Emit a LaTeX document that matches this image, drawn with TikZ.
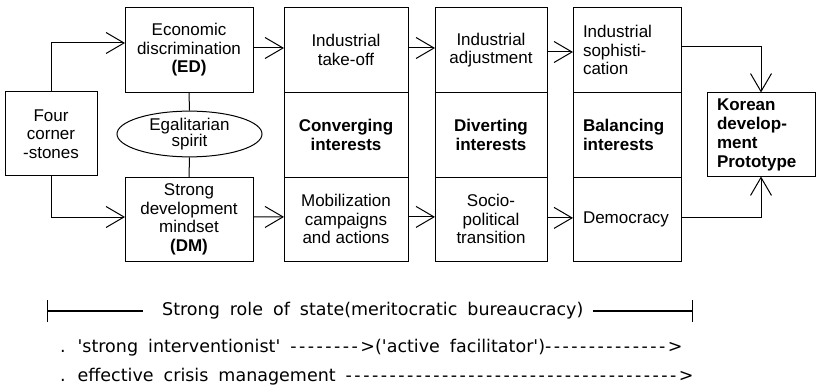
\documentclass[tikz,border=0pt]{standalone}
\usepackage{fontspec}
\setmainfont{Liberation Sans}
\newfontfamily\notefont[Ligatures=TeXOff,WordSpace=1.8]{DejaVu Sans}
\newfontfamily\dashfont[Ligatures=TeXOff,LetterSpace=14]{DejaVu Sans}
\usetikzlibrary{arrows.meta,positioning,shapes.geometric}

\newcommand{\dashrun}[1]{{\dashfont #1}}

\tikzset{
  cell/.style={draw, line width=1pt, outer sep=0pt, inner sep=2pt,
    minimum height=84.7pt, align=center},
  leftcell/.style={cell, text width=88pt, align=left},
  arr/.style={line width=1pt,
    -{Straight Barb[length=18pt,width=21pt,line width=1pt]}},
  note/.style={inner sep=0pt, anchor=west,
    font=\notefont\fontsize{17.5}{20}\selectfont},
}

\begin{document}
\begin{tikzpicture}[x=1pt, y=-1pt, font=\fontsize{17}{18.5}\selectfont]
  \useasboundingbox (0,0) rectangle (816,390);

  % left part
  \node[cell, minimum width=92pt, minimum height=84pt] (four) at (51,134)
    {Four\\corner\\-stones};
  \node[cell, minimum width=128pt] (ed) at (189,50)
    {Economic\\discrimination\\\textbf{(ED)}};
  \node[cell, minimum width=128pt] (dm) at (189,219.5)
    {Strong\\development\\mindset\\\textbf{(DM)}};
  \node[draw, line width=1pt, ellipse, inner sep=0pt, minimum width=145pt,
    minimum height=42pt, align=center, font=\fontsize{17}{16.5}\selectfont]
    (egal) at (189.5,134) {Egalitarian\\spirit};

  % three stages
  \node[cell, minimum width=124pt] (take) at (346,50) {Industrial\\take-off};
  \node[cell, minimum width=124pt, below=0pt of take] (conv)
    {\textbf{Converging}\\\textbf{interests}};
  \node[cell, minimum width=124pt, below=0pt of conv] (mobil)
    {Mobilization\\campaigns\\and actions};

  \node[cell, minimum width=112pt] (adjust) at (491,50)
    {Industrial\\adjustment};
  \node[cell, minimum width=112pt, below=0pt of adjust] (divert)
    {\textbf{Diverting}\\\textbf{interests}};
  \node[cell, minimum width=112pt, below=0pt of divert] (socio)
    {Socio-\\political\\transition};

  \node[leftcell, minimum width=108pt] (soph) at (627,50)
    {Industrial\\sophisti-\\cation};
  \node[leftcell, minimum width=108pt, below=0pt of soph] (balance)
    {\textbf{Balancing}\\\textbf{interests}};
  \node[leftcell, minimum width=108pt, below=0pt of balance] (democ)
    {Democracy};

  \node[leftcell, minimum width=108pt, minimum height=84pt,
    font=\bfseries\fontsize{17}{19}\selectfont] (korean) at (761,134.5)
    {Korean\\develop-\\ment\\Prototype};

  % connectors
  \draw[line width=1pt] (ed.south) -- (egal.north);
  \draw[line width=1pt] (egal.south) -- (dm.north);
  \draw[arr] (four.north) |- ([yshift=7pt]ed.west);
  \draw[arr] (four.south) |- ([yshift=2.5pt]dm.west);
  \draw[arr] ([yshift=2pt]ed.east) -- ([yshift=2pt]take.west);
  \draw[arr] ([yshift=2pt]take.east) -- ([yshift=2pt]adjust.west);
  \draw[arr] ([yshift=-2pt]adjust.east) -- ([yshift=-2pt]soph.west);
  \draw[arr] ([yshift=2.5pt]dm.east) -- ([yshift=2.5pt]mobil.west);
  \draw[arr] ([yshift=2.5pt]mobil.east) -- ([yshift=2.5pt]socio.west);
  \draw[arr] ([yshift=1.5pt]socio.east) -- ([yshift=1.5pt]democ.west);
  \draw[arr] ([yshift=3pt]soph.east) -| (korean.north);
  \draw[arr] ([yshift=1.5pt]democ.east) -| (korean.south);

  % role of state
  \node[note] (role) at (162,311) {Strong role of state(meritocratic bureaucracy)};
  \coordinate (bl) at (47,311);
  \coordinate (br) at (693,311);
  \draw[line width=1.2pt, {Bar[width=22pt]}-] (bl) -- ([xshift=-19pt]role.west);
  \draw[line width=1.2pt, -{Bar[width=22pt]}] ([xshift=9pt]role.east) -- (br);
  \node[note] (interv) at (60,348)
    {. 'strong interventionist' \dashrun{-------->}('active facilitator')\dashrun{-------------->}};
  \node[note] (crisis) at (60,377)
    {. effective crisis management \dashrun{-------------------------------------->}};
\end{tikzpicture}
\end{document}
